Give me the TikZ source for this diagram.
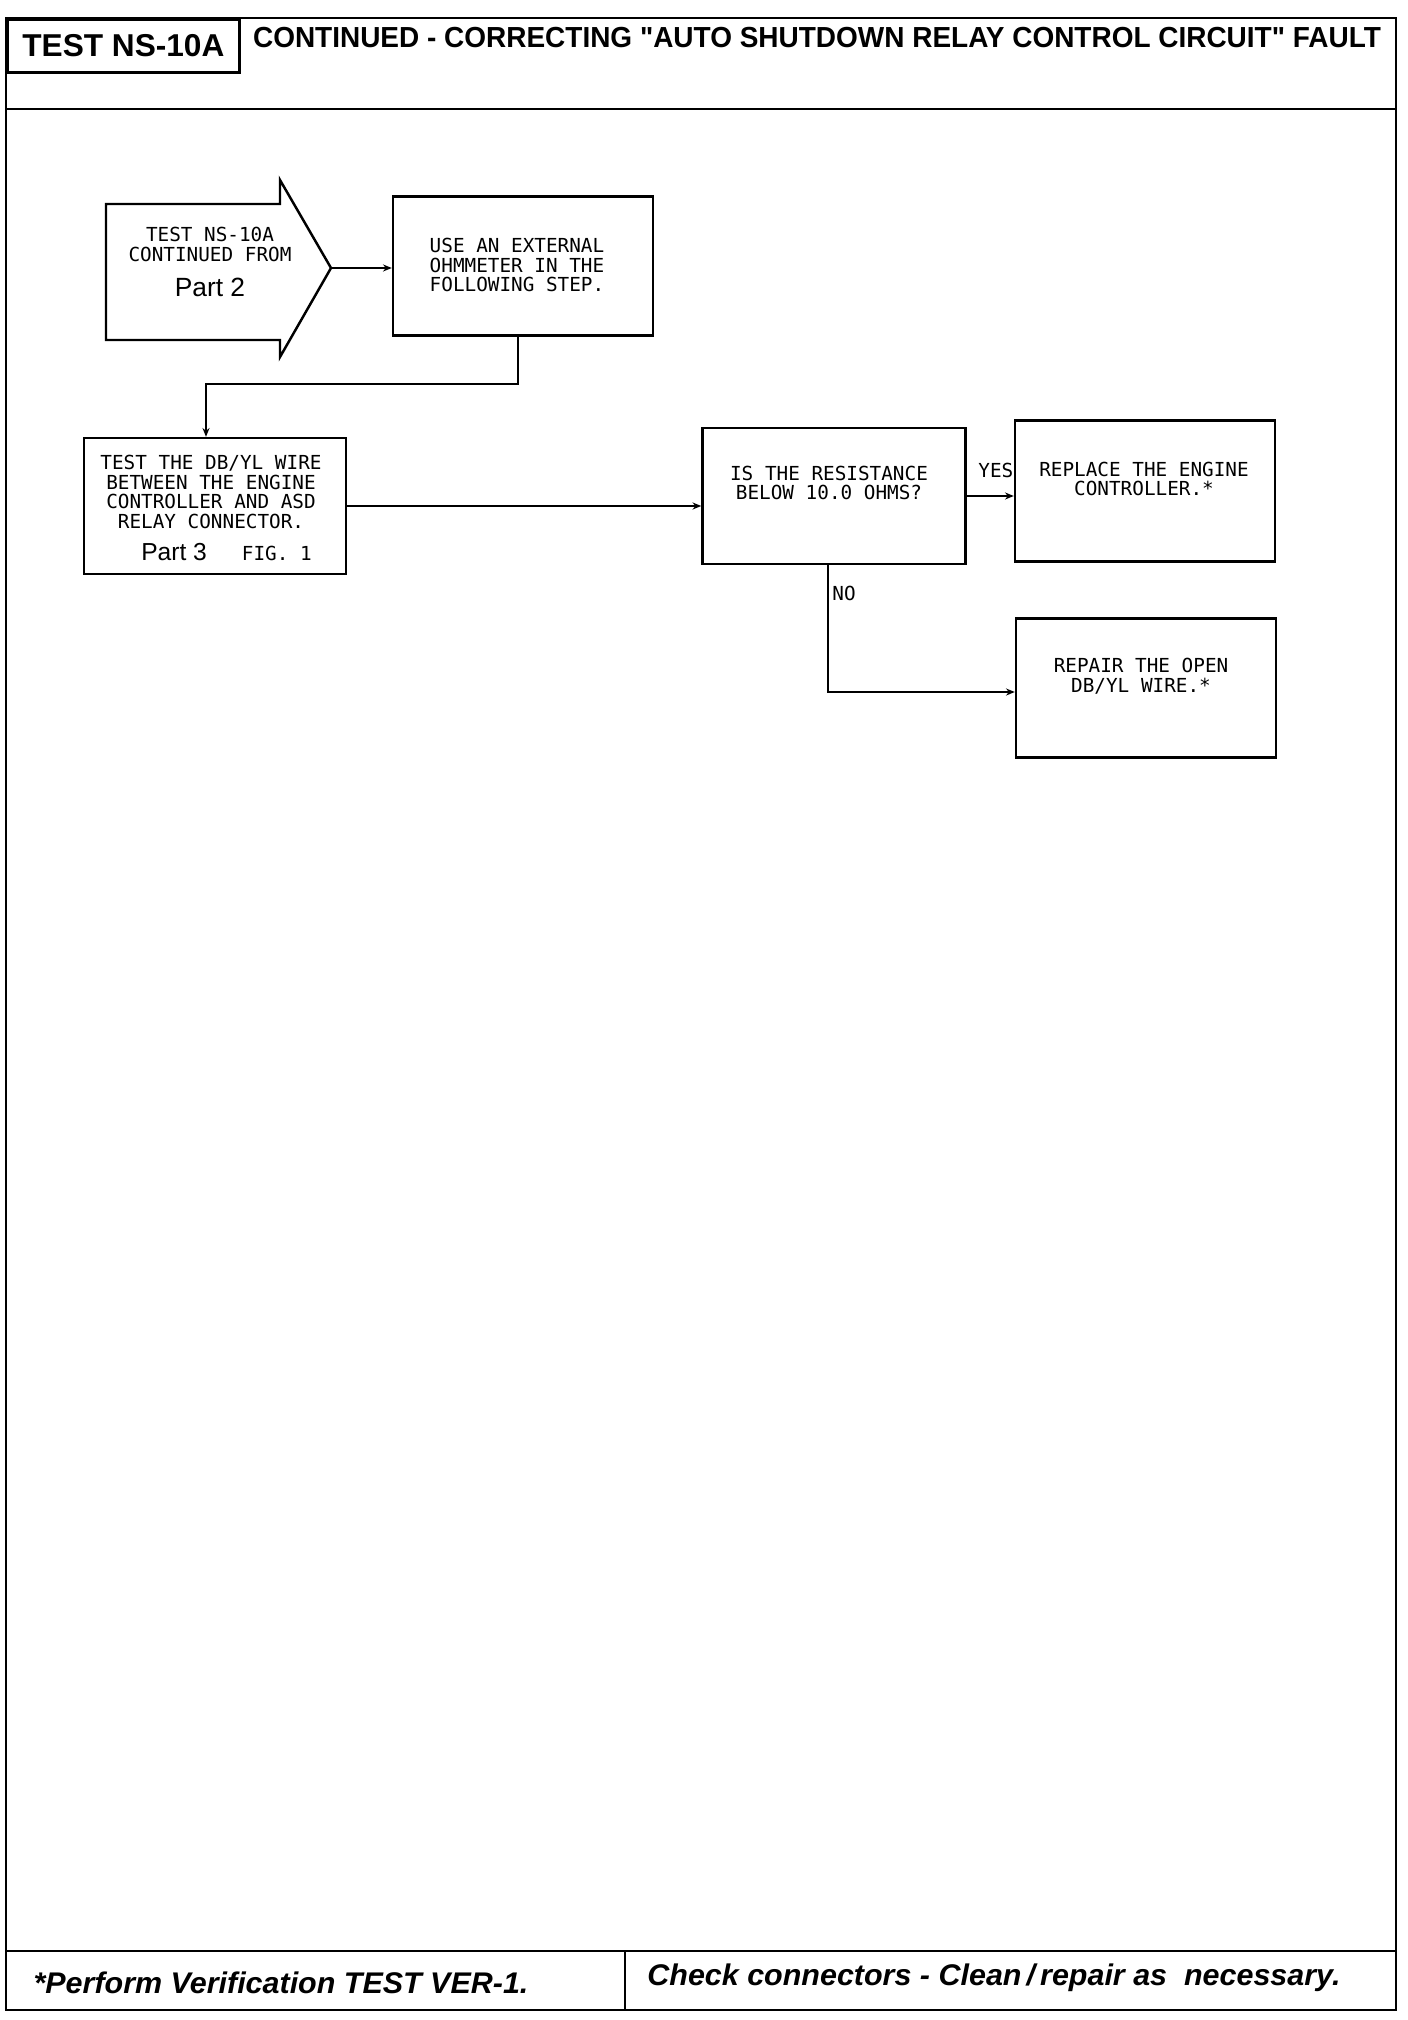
\documentclass[tikz,border=0pt]{standalone}
\usepackage{fontspec}
\setsansfont{Liberation Sans}[Ligatures=TeXOff]
\setmonofont{DejaVu Sans Mono}
\usetikzlibrary{arrows.meta}

\begin{document}
\begin{tikzpicture}[x=0.02cm, y=-0.02cm,
  frame/.style={line width=1.6pt},
  stepbox/.style={rectangle, draw, line width=1.4pt, minimum width=5.2cm, minimum height=2.75cm},
  plot/.style={font=\ttfamily\fontsize{11}{11.2}\selectfont, align=center, inner sep=0pt},
  link/.style={line width=1pt, -{Stealth[length=5pt,width=4pt]}},
  ]
  \useasboundingbox (0,0) rectangle (1408,2020);

  % page frame and header / footer rows
  \draw[frame] (6,18) rectangle (1396,2010);
  \draw[frame] (6,109) -- (1396,109);
  \draw[frame] (6,1951) -- (1396,1951);
  \draw[frame] (625,1951) -- (625,2010);
  \node (testno) [draw, frame, minimum width=4.64cm, minimum height=1.06cm, anchor=north west,
    font=\sffamily\bfseries\fontsize{18}{18}\selectfont] at (6,18) {TEST NS-10A};
  \node (title) [font=\sffamily\bfseries\fontsize{16.5}{16.5}\selectfont] at (817,38)
    {\scalebox{0.965}[1]{CONTINUED - CORRECTING "AUTO SHUTDOWN RELAY CONTROL CIRCUIT" FAULT}};
  \node (verify) [font=\sffamily\bfseries\itshape\fontsize{17}{17}\selectfont] at (281,1983)
    {\scalebox{1.02}[1]{*Perform Verification TEST VER-1.}};
  \node (check) [font=\sffamily\bfseries\itshape\fontsize{17}{17}\selectfont] at (994,1978)
    {\scalebox{1.02}[1]{Check connectors - Clean\,/\,repair as\ \ necessary.}};

  % entry arrow
  \draw[line width=1.4pt] (106,204) -- (280,204) -- (280,180) -- (331,268)
    -- (280,357) -- (280,340) -- (106,340) -- cycle;
  \coordinate (tip) at (331,268);
  \node (fromtxt) [plot] at (210,262) {TEST NS-10A\\CONTINUED FROM\\[9pt]
    {\sffamily\fontsize{15}{15}\selectfont Part 2\hspace{0.3cm}}};

  % boxes
  \node (ohm) [stepbox, minimum height=2.78cm] at (523,266) {};
  \node (ohmtxt) [plot] at (517,265) {USE AN EXTERNAL\\OHMMETER IN THE\\FOLLOWING STEP.};
  \node (dbyl) [stepbox, minimum width=5.24cm, minimum height=2.72cm] at (215,506) {};
  \node (dbyltxt) [plot] at (211,508) {TEST THE DB/YL WIRE\\BETWEEN THE ENGINE\\CONTROLLER AND ASD\\RELAY CONNECTOR.\\[7pt]
    \hspace*{0.62cm}{\sffamily\fontsize{14}{14}\selectfont Part 3}\hspace{0.7cm}FIG.~1};
  \node (decide) [stepbox, minimum width=5.26cm, minimum height=2.72cm] at (834,496) {};
  \node (decidetxt) [plot] at (829,483) {IS THE RESISTANCE\\BELOW 10.0 OHMS?};
  \node (ecm) [stepbox, minimum height=2.82cm] at (1145,491) {};
  \node (ecmtxt) [plot] at (1144,479) {REPLACE THE ENGINE\\CONTROLLER.*};
  \node (repair) [stepbox, minimum height=2.78cm] at (1146,688) {};
  \node (repairtxt) [plot] at (1141,676) {REPAIR THE OPEN\\DB/YL WIRE.*};

  % connectors
  \coordinate (bendr) at (518,384);
  \coordinate (bendl) at (206,384);
  \coordinate (nodrop) at (828,692);
  \draw[link] (tip) -- (tip -| ohm.west);
  \draw[link] (bendr |- ohm.south) -- (bendr) -- (bendl) -- (bendl |- dbyl.north);
  \draw[link] (dbyl.east) -- (dbyl.east -| decide.west);
  \draw[link] (decide.east) -- node[plot, pos=0.62, above=10pt] {YES} (decide.east -| ecm.west);
  \draw[link] (nodrop |- decide.south) -- node[plot, pos=0.22, right=2pt] {NO} (nodrop) -- (nodrop -| repair.west);
\end{tikzpicture}
\end{document}
